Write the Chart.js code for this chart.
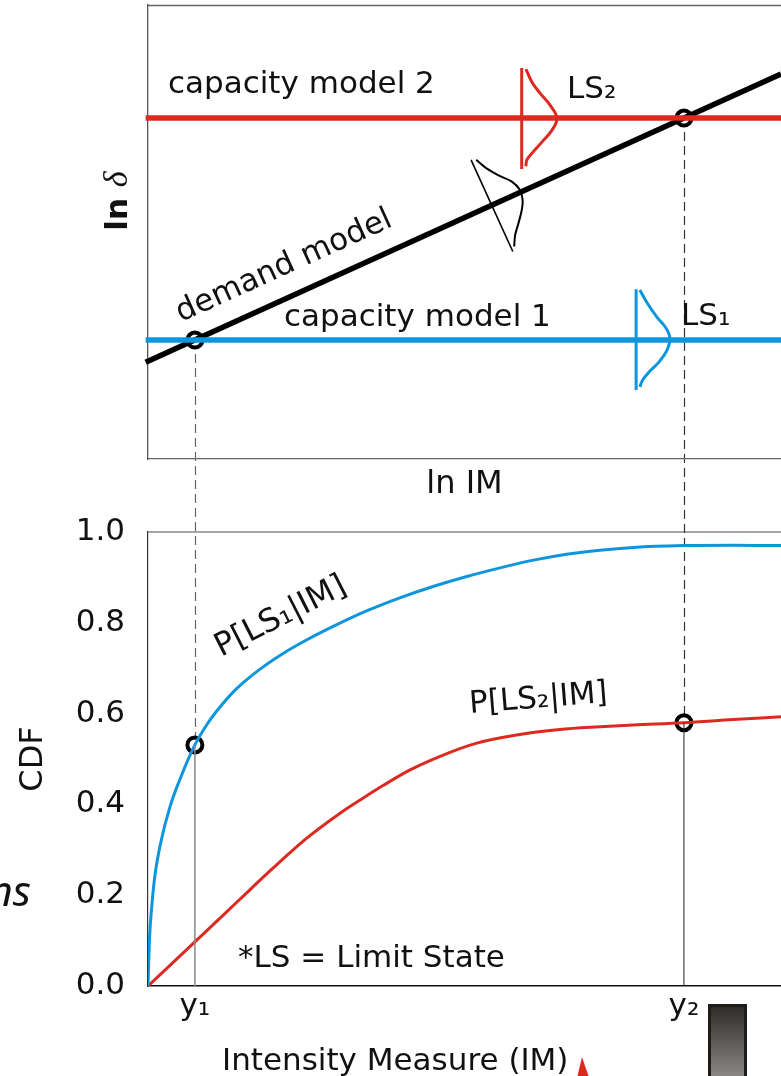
<!DOCTYPE html>
<html>
<head>
<meta charset="utf-8">
<script src="https://cdn.jsdelivr.net/npm/chart.js@4.4.1/dist/chart.umd.min.js"></script>
<style>
    html, body { margin: 0; padding: 0; background: #fff; overflow: hidden; }
    #wrap { position: relative; width: 781px; height: 1076px; }
    #wrap canvas { position: absolute; left: 0; top: 0; }
    #lowerChart { z-index: 1; }
    #upperChart { z-index: 2; }
</style>
</head>
<body>
<div id="wrap">
    <canvas id="lowerChart" width="781" height="1076"></canvas>
    <canvas id="upperChart" width="781" height="1076"></canvas>
</div>
<script>
// shared IM axis
const IM_MAX = 13.5;
const Y1 = 1.0;
const Y2 = 11.43;
const X_TICKS = [Y1, Y2];
const X_TICK_LABELS = ["y₁", "y₂"];

// upper panel: ln IM vs ln delta
const CAPACITY_1 = 2.62;
const CAPACITY_2 = 7.51;
const DEMAND_LINE = [{ x: -0.05, y: 2.13 }, { x: 13.5, y: 8.48 }];
const DEMAND_CROSS = [{ x: Y1, y: CAPACITY_1 }, { x: Y2, y: CAPACITY_2 }];

const LS2_BASE = [{ x: 7.97, y: 8.61 }, { x: 7.97, y: 6.39 }];
const LS2_BELL = [
    { x: 8.06, y: 8.59 }, { x: 8.19, y: 8.30 }, { x: 8.36, y: 8.06 }, { x: 8.57, y: 7.80 },
    { x: 8.72, y: 7.51 }, { x: 8.62, y: 7.25 }, { x: 8.40, y: 6.98 }, { x: 8.21, y: 6.76 },
    { x: 8.08, y: 6.59 }, { x: 8.06, y: 6.45 },
];
const LS1_BASE = [{ x: 10.41, y: 3.74 }, { x: 10.41, y: 1.52 }];
const LS1_BELL = [
    { x: 10.49, y: 3.72 }, { x: 10.65, y: 3.43 }, { x: 10.85, y: 3.13 }, { x: 11.05, y: 2.88 },
    { x: 11.13, y: 2.66 }, { x: 11.07, y: 2.40 }, { x: 10.90, y: 2.14 }, { x: 10.69, y: 1.92 },
    { x: 10.55, y: 1.74 }, { x: 10.49, y: 1.59 },
];
const DEMAND_BASE = [{ x: 6.89, y: 6.59 }, { x: 7.78, y: 4.57 }];
const DEMAND_BELL = [
    { x: 7.00, y: 6.59 }, { x: 7.22, y: 6.40 }, { x: 7.51, y: 6.23 }, { x: 7.76, y: 6.11 },
    { x: 7.93, y: 5.93 }, { x: 7.99, y: 5.70 }, { x: 7.97, y: 5.48 }, { x: 7.90, y: 5.19 },
    { x: 7.83, y: 4.93 }, { x: 7.81, y: 4.68 },
];

// lower panel: fragility curves
const CDF_TICKS = [0, 0.2, 0.4, 0.6, 0.8, 1.0];
const P_LS1 = [
    { x: 0, y: 0 }, { x: 0.03, y: 0.10 }, { x: 0.08, y: 0.175 }, { x: 0.15, y: 0.245 },
    { x: 0.27, y: 0.315 }, { x: 0.47, y: 0.395 }, { x: 0.68, y: 0.455 }, { x: 1.0, y: 0.531 },
    { x: 1.25, y: 0.575 }, { x: 1.54, y: 0.615 }, { x: 1.89, y: 0.655 }, { x: 2.39, y: 0.698 },
    { x: 2.89, y: 0.733 }, { x: 3.38, y: 0.762 }, { x: 3.95, y: 0.792 }, { x: 4.66, y: 0.826 },
    { x: 5.37, y: 0.855 }, { x: 6.08, y: 0.880 }, { x: 6.80, y: 0.902 }, { x: 7.51, y: 0.921 },
    { x: 8.22, y: 0.938 }, { x: 8.93, y: 0.951 }, { x: 9.64, y: 0.960 }, { x: 10.35, y: 0.966 },
    { x: 11.42, y: 0.970 }, { x: 12.48, y: 0.971 }, { x: 13.5, y: 0.970 },
];
const P_LS2 = [
    { x: 0, y: 0 }, { x: 1.0, y: 0.097 }, { x: 1.96, y: 0.191 }, { x: 2.67, y: 0.260 },
    { x: 3.38, y: 0.325 }, { x: 4.09, y: 0.380 }, { x: 4.56, y: 0.412 }, { x: 5.02, y: 0.442 },
    { x: 5.59, y: 0.476 }, { x: 6.23, y: 0.506 }, { x: 7.01, y: 0.535 }, { x: 7.86, y: 0.553 },
    { x: 8.78, y: 0.565 }, { x: 9.64, y: 0.571 }, { x: 10.35, y: 0.575 }, { x: 11.43, y: 0.580 },
    { x: 12.48, y: 0.587 }, { x: 13.5, y: 0.593 },
];
const CDF_CROSS = [{ x: Y1, y: 0.531 }, { x: Y2, y: 0.580 }];

const RED = "#dc2a20";
const BLUE = "#0e96dc";
const INK = "#111";
const FONT = "DejaVu Sans";

function lineSet(data, color, width, extra) {
    return Object.assign({
        data: data,
        borderColor: color,
        borderWidth: width,
        pointRadius: 0,
        fill: false,
        tension: 0,
    }, extra || {});
}

function crossSet(data) {
    return {
        data: data,
        showLine: false,
        pointRadius: 7.5,
        pointBorderWidth: 4,
        pointBorderColor: "#000",
        pointBackgroundColor: "#fff",
    };
}

function drawText(ctx, text, x, y, size, angle, style) {
    ctx.save();
    ctx.translate(x, y);
    ctx.rotate(angle || 0);
    ctx.font = (style || "") + " " + size + "px " + FONT;
    ctx.fillStyle = INK;
    ctx.textAlign = "left";
    ctx.textBaseline = "alphabetic";
    ctx.fillText(text, 0, 0);
    ctx.restore();
}

// ---------- upper panel ----------
const upper = new Chart(document.getElementById("upperChart"), {
    type: "line",
    data: {
        datasets: [
            lineSet([{ x: -0.05, y: CAPACITY_2 }, { x: IM_MAX, y: CAPACITY_2 }], RED, 5.5, { clip: false }),
            lineSet([{ x: -0.05, y: CAPACITY_1 }, { x: IM_MAX, y: CAPACITY_1 }], BLUE, 5.5, { clip: false }),
            lineSet(DEMAND_LINE, "#000", 5.5, { clip: false }),
            lineSet(LS2_BASE, RED, 3),
            lineSet(LS2_BELL, RED, 3, { tension: 0.4 }),
            lineSet(LS1_BASE, BLUE, 3),
            lineSet(LS1_BELL, BLUE, 3, { tension: 0.4 }),
            lineSet(DEMAND_BASE, "#000", 1.6),
            lineSet(DEMAND_BELL, "#000", 2, { tension: 0.4 }),
            crossSet(DEMAND_CROSS),
        ],
    },
    options: {
        responsive: false,
        animation: false,
        events: [],
        layout: { autoPadding: false, padding: { top: 5, left: 0, right: 0, bottom: 572 } },
        plugins: { legend: { display: false }, tooltip: { enabled: false } },
        scales: {
            x: {
                type: "linear",
                min: 0,
                max: IM_MAX,
                ticks: { display: false },
                grid: { display: false, drawTicks: false },
                border: { display: true, color: "#666", width: 1.3 },
                title: {
                    display: true,
                    text: "ln IM",
                    color: INK,
                    font: { family: FONT, size: 32 },
                    padding: 0,
                },
                afterFit: (s) => { s.height = 45; },
            },
            y: {
                min: 0,
                max: 10,
                ticks: { display: false },
                grid: { display: false, drawTicks: false },
                border: { display: true, color: "#555", width: 1.3 },
                afterFit: (s) => { s.width = 148; },
            },
        },
    },
    plugins: [
        {
            id: "upperLabels",
            beforeDatasetsDraw: (chart) => {
                const { ctx, chartArea } = chart;
                ctx.save();
                ctx.strokeStyle = "#666";
                ctx.lineWidth = 1.3;
                ctx.beginPath();
                ctx.moveTo(chartArea.left, chartArea.top + 0.5);
                ctx.lineTo(chartArea.right, chartArea.top + 0.5);
                ctx.stroke();
                ctx.restore();
            },
            afterDraw: (chart) => {
                const ctx = chart.ctx;
                const x = chart.scales.x;
                const y = chart.scales.y;

                drawText(ctx, "capacity model 2", 168, 93, 31);
                drawText(ctx, "LS₂", 567, 98, 31);
                drawText(ctx, "capacity model 1", 284, 326, 31);
                drawText(ctx, "LS₁", 681, 325, 31);

                // demand model label follows the demand line
                const p1 = { x: x.getPixelForValue(DEMAND_LINE[0].x), y: y.getPixelForValue(DEMAND_LINE[0].y) };
                const p2 = { x: x.getPixelForValue(DEMAND_LINE[1].x), y: y.getPixelForValue(DEMAND_LINE[1].y) };
                const angle = Math.atan2(p2.y - p1.y, p2.x - p1.x);
                const ax = x.getPixelForValue(0.9);
                const ay = p1.y + (ax - p1.x) * Math.tan(angle);
                ctx.save();
                ctx.translate(ax, ay);
                ctx.rotate(angle);
                ctx.font = "31px " + FONT;
                ctx.fillStyle = INK;
                ctx.fillText("demand model", 0, -22);
                ctx.restore();

                // y axis title: ln δ
                ctx.save();
                ctx.translate(116, 201);
                ctx.rotate(-Math.PI / 2);
                ctx.fillStyle = INK;
                ctx.font = "bold 31px " + FONT;
                const w1 = ctx.measureText("ln ").width;
                ctx.font = "italic 34px 'Liberation Serif'";
                const w2 = ctx.measureText("δ").width;
                const start = -(w1 + w2) / 2;
                ctx.font = "bold 31px " + FONT;
                ctx.fillText("ln ", start, 11);
                ctx.font = "italic 34px 'Liberation Serif'";
                ctx.fillText("δ", start + w1, 11);
                ctx.restore();
            },
        },
    ],
});

// ---------- lower panel ----------
const lower = new Chart(document.getElementById("lowerChart"), {
    type: "line",
    data: {
        datasets: [
            lineSet([{ x: Y1, y: 0 }, CDF_CROSS[0]], "#888", 1.5),
            lineSet([{ x: Y2, y: 0 }, CDF_CROSS[1]], "#222", 1),
            lineSet(P_LS1, BLUE, 3, { cubicInterpolationMode: "monotone" }),
            lineSet(P_LS2, RED, 3, { cubicInterpolationMode: "monotone" }),
            crossSet(CDF_CROSS),
        ],
    },
    options: {
        responsive: false,
        animation: false,
        events: [],
        layout: { autoPadding: false, padding: { top: 532, left: 0, right: 0, bottom: 0 } },
        plugins: { legend: { display: false }, tooltip: { enabled: false } },
        scales: {
            x: {
                type: "linear",
                min: 0,
                max: IM_MAX,
                afterBuildTicks: (s) => { s.ticks = X_TICKS.map((v) => ({ value: v })); },
                ticks: {
                    autoSkip: false,
                    maxRotation: 0,
                    padding: 2,
                    color: INK,
                    font: { family: FONT, size: 31 },
                    callback: (value, index) => X_TICK_LABELS[index],
                },
                grid: { display: false, drawTicks: false },
                border: { display: true, color: "#111", width: 1.5 },
                afterFit: (s) => { s.height = 90; },
            },
            y: {
                min: 0,
                max: 1,
                afterBuildTicks: (s) => { s.ticks = CDF_TICKS.map((v) => ({ value: v })); },
                ticks: {
                    padding: 23,
                    color: INK,
                    font: { family: FONT, size: 31 },
                    callback: (value) => Number(value).toFixed(1),
                },
                grid: { display: false, drawTicks: false },
                border: { display: true, color: "#333", width: 1.2 },
                title: {
                    display: true,
                    text: "CDF",
                    color: INK,
                    font: { family: FONT, size: 32 },
                    padding: { top: 14, bottom: 0 },
                },
                afterFit: (s) => { s.width = 148; },
            },
        },
    },
    plugins: [
        {
            id: "lowerGuides",
            beforeDatasetsDraw: (chart) => {
                const { ctx, chartArea } = chart;
                ctx.save();
                ctx.strokeStyle = "#888";
                ctx.lineWidth = 1.5;
                ctx.beginPath();
                ctx.moveTo(chartArea.left, chartArea.top);
                ctx.lineTo(chartArea.right, chartArea.top);
                ctx.stroke();

                // dashed guides from the demand/capacity crossings to the CDF points
                const colors = ["#666", "#333"];
                ctx.setLineDash([9, 5]);
                ctx.lineWidth = 1.2;
                DEMAND_CROSS.forEach((pt, i) => {
                    const px = chart.scales.x.getPixelForValue(pt.x);
                    const top = upper.scales.y.getPixelForValue(pt.y);
                    const bottom = chart.scales.y.getPixelForValue(CDF_CROSS[i].y);
                    ctx.strokeStyle = colors[i];
                    ctx.beginPath();
                    ctx.moveTo(Math.round(px) + 0.5, top);
                    ctx.lineTo(Math.round(px) + 0.5, bottom);
                    ctx.stroke();
                });
                ctx.restore();
            },
            afterDraw: (chart) => {
                const ctx = chart.ctx;
                drawText(ctx, "P[LS₁|IM]", 221, 657, 32, -27 * Math.PI / 180);
                drawText(ctx, "P[LS₂|IM]", 470, 713, 31, -4.6 * Math.PI / 180);
                drawText(ctx, "*LS = Limit State", 238, 967, 31);
                drawText(ctx, "Intensity Measure (IM)", 222, 1070, 31);

                // cropped fragments at the picture edges
                ctx.save();
                ctx.font = "italic 42px 'Noto Sans'";
                ctx.fillStyle = INK;
                ctx.textAlign = "right";
                ctx.fillText("ns", 31, 906);
                const g = ctx.createLinearGradient(0, 1004, 0, 1076);
                g.addColorStop(0, "#2b2825");
                g.addColorStop(1, "#8a8886");
                ctx.fillStyle = g;
                ctx.fillRect(708, 1004, 39, 72);
                ctx.strokeStyle = "#1e1b19";
                ctx.lineWidth = 3;
                ctx.strokeRect(709.5, 1005.5, 36, 72);
                ctx.fillStyle = RED;
                ctx.beginPath();
                ctx.moveTo(582, 1057);
                ctx.lineTo(588.5, 1076);
                ctx.lineTo(577.5, 1076);
                ctx.closePath();
                ctx.fill();
                ctx.restore();
            },
        },
    ],
});
</script>
</body>
</html>
